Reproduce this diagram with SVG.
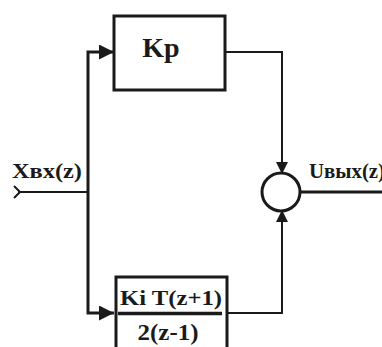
<svg xmlns="http://www.w3.org/2000/svg" width="382" height="347" viewBox="0 0 382 347">
<style>
.t{font-family:"Liberation Serif","Times New Roman",serif;font-weight:bold;fill:#1a1a1a}
.box{fill:#fff;stroke:#1a1a1a;stroke-width:3}
.w{fill:none;stroke:#1a1a1a;stroke-width:2}
.wb{fill:none;stroke:#1a1a1a;stroke-width:3}
</style>
<defs>
<marker id="ah" viewBox="0 0 10 10" refX="10" refY="5" markerWidth="5.5" markerHeight="5" orient="auto" markerUnits="strokeWidth">
<path d="M0,0 L10,5 L0,10 Z" fill="#1a1a1a"/>
</marker>
<marker id="ah2" viewBox="0 0 10 10" refX="10" refY="5" markerWidth="8" markerHeight="6" orient="auto" markerUnits="strokeWidth">
<path d="M0,0 L10,5 L0,10 Z" fill="#1a1a1a"/>
</marker>
</defs>
<rect width="382" height="347" fill="#fff"/>
<g id="connectors">
<path class="w" d="M18,192 H88"/>
<path class="w" d="M14,186 L20,192 L14,198"/>
<path class="wb" d="M88,192 V52 H114" marker-end="url(#ah)"/>
<path class="wb" d="M88,192 V313 H114" marker-end="url(#ah)"/>
<path class="w" d="M226,52 H282 V174" marker-end="url(#ah2)"/>
<path class="w" d="M228,313 H282 V210" marker-end="url(#ah2)"/>
<path class="wb" d="M300,192 H382"/>
</g>
<g id="input-label"><text class="t" x="12" y="178" font-size="20" textLength="70" lengthAdjust="spacingAndGlyphs">Xвх(z)</text></g>
<g id="kp">
<rect class="box" x="114" y="16" width="111" height="74"/>
<text class="t" x="161" y="57" font-size="28" text-anchor="middle">Kp</text>
</g>
<g id="ki">
<rect class="box" x="116" y="277" width="111" height="75"/>
<text class="t" x="120" y="305" font-size="22" textLength="102" lengthAdjust="spacingAndGlyphs">Ki T(z+1)</text>
<line x1="118" y1="313.5" x2="222" y2="313.5" stroke="#1a1a1a" stroke-width="3.5"/>
<text class="t" x="168" y="340" font-size="24" text-anchor="middle" textLength="61" lengthAdjust="spacingAndGlyphs">2(z-1)</text>
</g>
<g id="sum">
<circle cx="281" cy="192" r="19" fill="none" stroke="#1a1a1a" stroke-width="3"/>
</g>
<g id="output-label"><text class="t" x="309" y="178" font-size="20" textLength="76" lengthAdjust="spacingAndGlyphs">Uвых(z)</text></g>
</svg>
